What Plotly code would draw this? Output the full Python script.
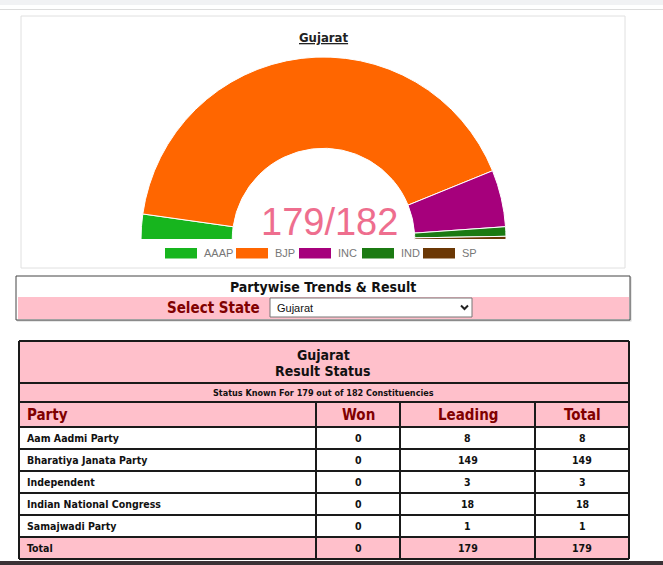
import plotly.graph_objects as go

# ---------------- data ----------------
state = "Gujarat"
total_seats = 182
party_codes = ["AAAP", "BJP", "INC", "IND", "SP"]
party_colors = ["#17b51e", "#ff6600", "#a6007c", "#1b7a12", "#6b3805"]
seats = [8, 149, 18, 3, 1]

table_parties = ["Aam Aadmi Party", "Bharatiya Janata Party", "Independent",
                 "Indian National Congress", "Samajwadi Party"]
table_won = [0, 0, 0, 0, 0]
table_leading = [8, 149, 3, 18, 1]
table_total = [8, 149, 3, 18, 1]
col_headers = ["Party", "Won", "Leading", "Total"]

# ---------------- helpers ----------------
W, H = 663, 565
def px(x): return x / W
def py(y): return 1 - y / H

FAM = "DejaVu Sans Condensed, DejaVu Sans, sans-serif"
ARIAL = "Liberation Sans, Arial, sans-serif"
PINK = "#ffc0cb"
MAROON = "#800000"

shapes = []
annotations = []

def rect(x0, y0, x1, y1, fill="rgba(0,0,0,0)", line="rgba(0,0,0,0)", lw=0, layer="below"):
    shapes.append(dict(type="rect", xref="paper", yref="paper",
                       x0=px(x0), x1=px(x1), y0=py(y1), y1=py(y0),
                       fillcolor=fill, line=dict(color=line, width=lw), layer=layer))

def hline(x0, x1, y, color, lw, layer="above"):
    shapes.append(dict(type="line", xref="paper", yref="paper",
                       x0=px(x0), x1=px(x1), y0=py(y), y1=py(y),
                       line=dict(color=color, width=lw), layer=layer))

def vline(x, y0, y1, color, lw, layer="above"):
    shapes.append(dict(type="line", xref="paper", yref="paper",
                       x0=px(x), x1=px(x), y0=py(y0), y1=py(y1),
                       line=dict(color=color, width=lw), layer=layer))

def text(x, y, s, size, color="#111", family=FAM, xanchor="center"):
    annotations.append(dict(x=px(x), y=py(y), xref="paper", yref="paper",
                            text=s, showarrow=False, xanchor=xanchor, yanchor="middle",
                            font=dict(size=size, color=color, family=family)))

# ---------------- page chrome ----------------
rect(0, 0, W, 5, fill="#f1f2f4")
hline(0, W, 9.5, "#dcdcdc", 1, layer="below")
rect(21, 16, 625, 268, fill="white", line="#e0e0e0", lw=1)
text(323, 38, "<b><u>" + state + "</u></b>", 13, "#222")

# ---------------- semi-donut ----------------
hidden = sum(seats)
fig = go.Figure(go.Pie(
    values=seats + [hidden],
    labels=party_codes + ["_hidden"],
    marker=dict(colors=party_colors + ["rgba(0,0,0,0)"],
                line=dict(color=["white"] * len(seats) + ["rgba(0,0,0,0)"],
                          width=[1] * len(seats) + [0])),
    hole=0.5, sort=False, direction="clockwise", rotation=-90,
    textinfo="none", hoverinfo="skip", showlegend=False,
    domain=dict(x=[px(141), px(506)], y=[py(422), py(57)]),
))

text(329, 222, f"{sum(seats)}/{total_seats}", 38, "#ee6e8e", family=ARIAL)

# custom legend
legend_x = [165, 236, 299, 362, 423]
for code, col, lx in zip(party_codes, party_colors, legend_x):
    rect(lx, 248, lx + 32, 258.5, fill=col)
    text(lx + 37, 253, code, 11, "#777", family=ARIAL, xanchor="left")

# ---------------- partywise box ----------------
rect(17, 277, 631.5, 321.5, fill="#d0d0d0")  # soft shadow
rect(16, 276, 630, 320, fill="white", line="#444", lw=1)
text(323, 287, "<b>Partywise Trends &amp; Result</b>", 14, "#111")
rect(18, 297, 629, 319, fill=PINK)
text(262, 307.5, "<b>Select State</b>", 15, MAROON, xanchor="right")
shapes.append(dict(type="rect", xref="paper", yref="paper",
                   x0=px(270), x1=px(472), y0=py(317), y1=py(298),
                   fillcolor="white", line=dict(color="#767676", width=1), layer="below"))
text(275, 307.5, state, 11, "#111", family=ARIAL, xanchor="left")
shapes.append(dict(type="path", xref="paper", yref="paper",
                   path=f"M {px(461)},{py(305.5)} L {px(464.5)},{py(309)} L {px(468)},{py(305.5)}",
                   line=dict(color="#222", width=2), layer="above"))

# ---------------- result table ----------------
TL, TR = 19, 629
col_x = [TL, 316, 400, 535, TR]
row_y = [341, 383, 402, 427, 449, 471, 493, 515, 537, 559]
BC = "#1a1a1a"

rect(TL, row_y[0], TR, row_y[3], fill=PINK)
rect(TL, row_y[-2], TR, row_y[-1], fill=PINK)
rect(TL, row_y[3], TR, row_y[-2], fill="white")

# borders
for y in row_y:
    hline(TL, TR, y, BC, 2)
for x in (TL, TR):
    vline(x, row_y[0], row_y[-1], BC, 2)
for x in col_x[1:-1]:
    vline(x, row_y[2], row_y[-1], BC, 2)

text(323, 355, "<b>" + state + "</b>", 14, "#111")
text(323, 370.5, "<b>Result Status</b>", 14, "#111")
text(323, 392.5, f"<b>Status Known For {sum(seats)} out of {total_seats} Constituencies</b>", 9, "#111")

centers = [(col_x[i] + col_x[i + 1]) / 2 for i in range(4)]
hy = (row_y[2] + row_y[3]) / 2
text(25, hy, "<b>" + col_headers[0] + "</b>", 15, MAROON, xanchor="left")
for i in range(1, 4):
    text(centers[i], hy, "<b>" + col_headers[i] + "</b>", 15, MAROON)

BS = 10.5
for r, (name, w, l, t) in enumerate(zip(table_parties, table_won, table_leading, table_total)):
    yc = (row_y[3 + r] + row_y[4 + r]) / 2
    text(25, yc, "<b>" + name + "</b>", BS, "#111", xanchor="left")
    for i, v in zip(range(1, 4), (w, l, t)):
        text(centers[i], yc, f"<b>{v}</b>", BS, "#111")

yc = (row_y[-2] + row_y[-1]) / 2
text(25, yc, "<b>Total</b>", BS, "#111", xanchor="left")
for i, vals in zip(range(1, 4), (table_won, table_leading, table_total)):
    text(centers[i], yc, f"<b>{sum(vals)}</b>", BS, "#111")

# bottom dark strip
rect(0, 561, W, 566, fill="#3a3236")

fig.update_layout(
    width=W, height=H, margin=dict(l=0, r=0, t=0, b=0),
    paper_bgcolor="white", plot_bgcolor="white",
    shapes=shapes, annotations=annotations, showlegend=False,
)
fig.write_html("out.html")
